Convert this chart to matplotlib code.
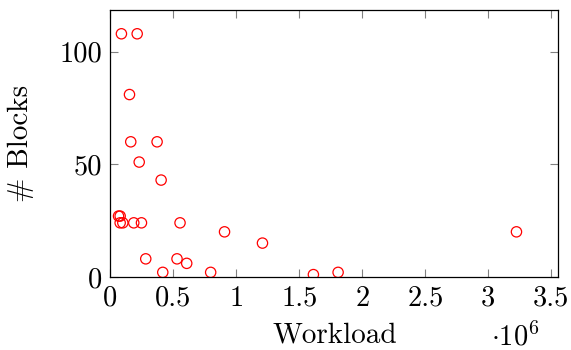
import matplotlib
matplotlib.use("Agg")
import matplotlib.pyplot as plt
from matplotlib.ticker import FuncFormatter, MultipleLocator

plt.rcParams["font.family"] = "serif"
plt.rcParams["font.serif"] = ["cmr10"]
plt.rcParams["mathtext.fontset"] = "cm"
plt.rcParams["axes.unicode_minus"] = False

# workload vs. number of blocks
workload = [89000, 214000, 153000, 163000, 372000, 230000, 404000,
            66000, 79000, 79000, 100000, 187000, 248000, 554000,
            907000, 1208000, 282000, 530000, 607000, 417000, 797000,
            1612000, 1808000, 3223000]
blocks = [108, 108, 81, 60, 60, 51, 43,
          27, 27, 24, 24, 24, 24, 24,
          20, 15, 8, 8, 6, 2, 2,
          1, 2, 20]

fig = plt.figure(figsize=(5.71, 3.5), dpi=100)
ax = fig.add_axes([0.193, 0.209, 0.785, 0.762])

ax.scatter(workload, blocks, s=55, facecolors="none", edgecolors="red",
           linewidths=0.9, zorder=3)

ax.set_xlim(0, 3.556e6)
ax.set_ylim(0, 118.5)
ax.xaxis.set_major_locator(MultipleLocator(0.5e6))
ax.yaxis.set_major_locator(MultipleLocator(50))
ax.xaxis.set_major_formatter(FuncFormatter(lambda v, p: "%g" % (v / 1e6)))

ax.tick_params(direction="in", length=6, width=0.8, color="0.5",
               top=True, right=True, labelsize=20.5, pad=6)
for s in ax.spines.values():
    s.set_linewidth(0.9)

ax.set_xlabel("Workload", fontsize=21, labelpad=8)
ax.set_ylabel("# Blocks", fontsize=21, labelpad=18)
ax.text(0.902, 0.014, r"$\cdot 10^6$", transform=fig.transFigure,
        fontsize=20.5, ha="center", va="baseline")

fig.savefig("out.png", dpi=100)
